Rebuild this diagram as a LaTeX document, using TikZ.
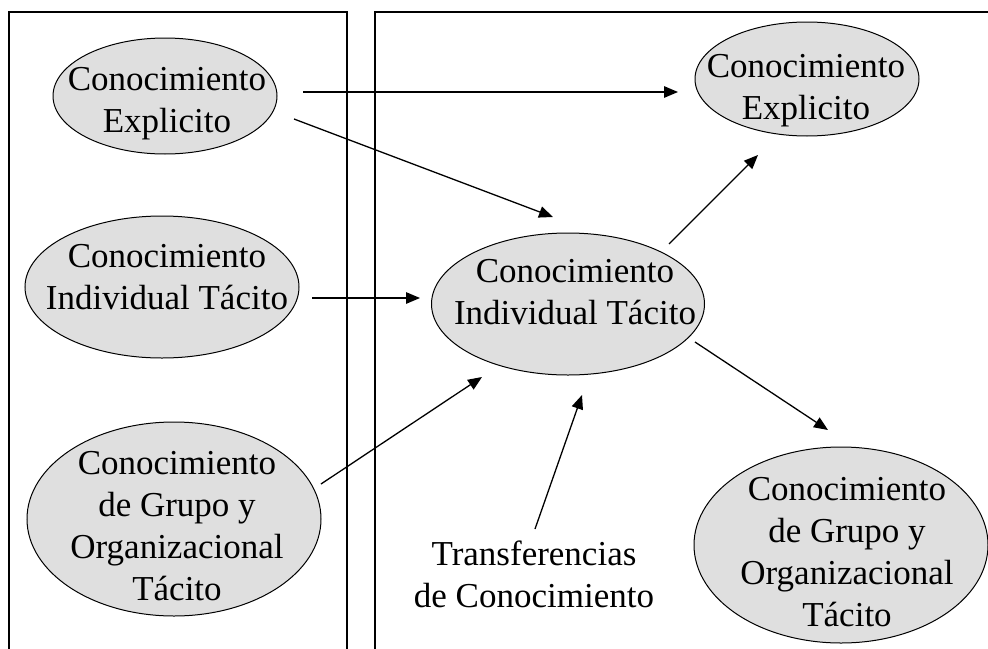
\documentclass[tikz,border=0pt]{standalone}
\usepackage{fontspec}
\setmainfont{Liberation Serif}
\usetikzlibrary{shapes.geometric,arrows.meta,calc}
\begin{document}
\begin{tikzpicture}[x=1pt, y=-1pt, >={Triangle[length=14pt,width=11.5pt]},
  bolsa/.style={ellipse, draw, line width=1pt, fill=gray!25, inner sep=0pt},
  texto/.style={align=center, inner sep=0pt, font=\fontsize{35}{42}\selectfont},
  flecha/.style={->, line width=1.3pt}]

\clip (0,0) rectangle (988,648);
\draw[line width=1.3pt] (9,660)--(9,12)--(347,12)--(347,660);
\draw[line width=1.3pt] (375,660)--(375,12)--(1000,12);

\node[bolsa, minimum width=224pt, minimum height=116pt] (exA) at (165,96) {};
\node[bolsa, minimum width=274pt, minimum height=142pt] (inA) at (162,287) {};
\node[bolsa, minimum width=294pt, minimum height=194pt] (grA) at (174,519) {};
\node[bolsa, minimum width=224pt, minimum height=114pt] (exB) at (807,79) {};
\node[bolsa, minimum width=273pt, minimum height=142pt] (inB) at (568,304) {};
\node[bolsa, minimum width=294pt, minimum height=196pt] (grB) at (841,545) {};

\node[texto] (exAt) at (167,104) {Conocimiento\\Explicito};
\node[texto] (inAt) at (167,277) {Conocimiento\\Individual Tácito};
\node[texto] (grAt) at (177,526) {Conocimiento\\de Grupo y\\Organizacional\\Tácito};
\node[texto] (exBt) at (806,91) {Conocimiento\\Explicito};
\node[texto] (inBt) at (575,292) {Conocimiento\\Individual Tácito};
\node[texto] (grBt) at (847,552) {Conocimiento\\de Grupo y\\Organizacional\\Tácito};
\node[texto] (tr) at (534,574) {Transferencias\\de Conocimiento};

\draw[flecha] ($(exA)+(138,-4)$) -- ($(exB)+(-129,13)$);
\draw[flecha] ($(exA)+(129,23)$) -- ($(inB)+(-15,-87)$);
\draw[flecha] ($(inA)+(150,11)$) -- ($(inB)+(-148,-6)$);
\draw[flecha] ($(grA)+(147,-35)$) -- ($(inB)+(-86,73)$);
\draw[flecha] ($(tr)+(1,-45)$) -- ($(inB)+(14,91)$);
\draw[flecha] ($(inB)+(101,-60)$) -- ($(exB)+(-49,76)$);
\draw[flecha] ($(inB)+(127,38)$) -- ($(grB)+(-13,-115)$);
\end{tikzpicture}
\end{document}
